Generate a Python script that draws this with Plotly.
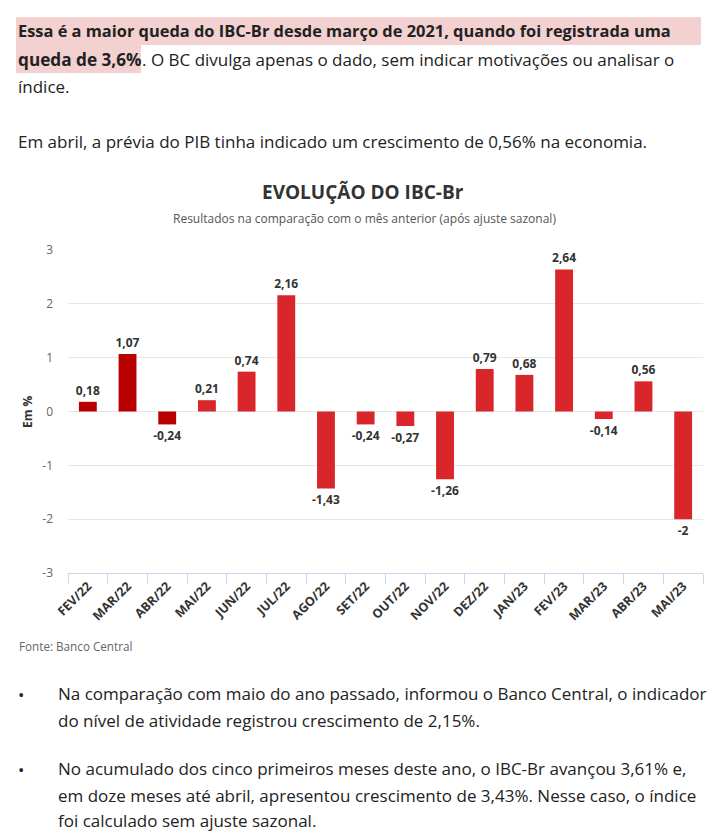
import plotly.graph_objects as go

# ---------------- data ----------------
months = ["FEV/22", "MAR/22", "ABR/22", "MAI/22", "JUN/22", "JUL/22", "AGO/22", "SET/22",
          "OUT/22", "NOV/22", "DEZ/22", "JAN/23", "FEV/23", "MAR/23", "ABR/23", "MAI/23"]
values = [0.18, 1.07, -0.24, 0.21, 0.74, 2.16, -1.43, -0.24,
          -0.27, -1.26, 0.79, 0.68, 2.64, -0.14, 0.56, -2]
y_ticks = [3, 2, 1, 0, -1, -2, -3]
y_tick_labels = ["3", "2", "1", "0", "-1", "-2", "-3"]

title = "EVOLUÇÃO DO IBC-Br"
subtitle = "Resultados na comparação com o mês anterior (após ajuste sazonal)"
source = "Fonte: Banco Central"
para1_line1 = "Essa é a maior queda do IBC-Br desde março de 2021, quando foi registrada uma"
para1_line2a = "queda de 3,6%"
para1_line2b = ". O BC divulga apenas o dado, sem indicar motivações ou analisar o"
para1_line3 = "índice."
para2 = "Em abril, a prévia do PIB tinha indicado um crescimento de 0,56% na economia."
bullet1 = ["Na comparação com maio do ano passado, informou o Banco Central, o indicador",
           "do nível de atividade registrou crescimento de 2,15%."]
bullet2 = ["No acumulado dos cinco primeiros meses deste ano, o IBC-Br avançou 3,61% e,",
           "em doze meses até abril, apresentou crescimento de 3,43%. Nesse caso, o índice",
           "foi calculado sem ajuste sazonal."]

# ---------------- styles ----------------
DARK = "#b90000"
RED = "#d8262b"
bar_colors = [DARK] * 3 + [RED] * (len(values) - 3)
labels = [("%g" % v).replace(".", ",") for v in values]

OFF = 8  # page body margin
W, H = 719 - 2 * OFF, 838 - OFF
L, R = 68 - OFF, W - (703 - OFF)
T, B = 250 - OFF, H - (573 - OFF)
PW, PH = W - L - R, H - T - B
FONT = "Open Sans"
TXT = "#333333"
ART = "#222222"


def px(x):
    return (x - OFF - L) / PW


def py(y):
    return (H - B - (y - OFF)) / PH


fig = go.Figure(go.Bar(
    x=months, y=values, marker_color=bar_colors, marker_line_width=0,
    text=labels, textposition="outside", cliponaxis=False, constraintext="none",
    textfont=dict(family=FONT, size=12, color=TXT, weight="bold"),
    hoverinfo="skip",
))

ann = []


def text(x, y, s, size, color=TXT, bold=False, anchor="left", angle=0):
    ann.append(dict(
        x=px(x), y=py(y), xref="paper", yref="paper", text=s, showarrow=False,
        xanchor=anchor, yanchor="middle", textangle=angle,
        font=dict(family=FONT, size=size, color=color, weight="bold" if bold else "normal"),
        borderpad=0,
    ))


HL = "#f3d1d1"
BOLD_SZ = 16.4
NORM_SZ = 17
shapes = [
    dict(type="rect", xref="paper", yref="paper", x0=px(16), x1=px(701), y0=py(17), y1=py(45),
         fillcolor=HL, line_width=0, layer="below"),
    dict(type="rect", xref="paper", yref="paper", x0=px(16), x1=px(141), y0=py(45), y1=py(73),
         fillcolor=HL, line_width=0, layer="below"),
]
text(17, 31, para1_line1, BOLD_SZ, ART, True)
text(17, 59, para1_line2a, 17.2, ART, True)
text(141, 59, para1_line2b, NORM_SZ, ART)
text(17, 87, para1_line3, NORM_SZ, ART)
text(17, 142, para2, NORM_SZ, ART)

text(363, 192, title, 19, TXT, True, "center")
text(364, 218, subtitle, 12, "#555555", False, "center")
text(27, 412, "Em %", 12, TXT, True, "center", angle=-90)
text(18, 646, source, 11.7, "#666666")

text(21, 694, "•", 17, ART, False, "center")
text(57, 693, bullet1[0], NORM_SZ, ART)
text(57, 720, bullet1[1], NORM_SZ, ART)
text(21, 769, "•", 17, ART, False, "center")
text(57, 768, bullet2[0], NORM_SZ, ART)
text(57, 795, bullet2[1], NORM_SZ, ART)
text(57, 820, bullet2[2], NORM_SZ, ART)

fig.update_layout(
    width=W, height=H, margin=dict(l=L, r=R, t=T, b=B, pad=0),
    paper_bgcolor="white", plot_bgcolor="white",
    bargap=0.55, showlegend=False,
    annotations=ann, shapes=shapes,
    font=dict(family=FONT, color=TXT),
)
fig.update_xaxes(
    type="category", showgrid=False, showline=True, linecolor="#ccd6eb", linewidth=1,
    ticks="outside", tickson="boundaries", ticklen=10, tickcolor="#ccd6eb", tickwidth=1,
    tickangle=-45, tickfont=dict(family=FONT, size=12.5, color=TXT, weight="bold"),
    zeroline=False, fixedrange=True,
)
fig.update_yaxes(
    range=[-3, 3], tickvals=y_ticks, ticktext=y_tick_labels, showgrid=True,
    gridcolor="#e6e6e6", gridwidth=1, zeroline=True, zerolinecolor="#e6e6e6", zerolinewidth=1,
    showline=False, ticks="", ticklabelstandoff=14,
    tickfont=dict(family=FONT, size=12, color="#666666"), fixedrange=True,
)

fig.write_html("out.html", config={"displayModeBar": False})
